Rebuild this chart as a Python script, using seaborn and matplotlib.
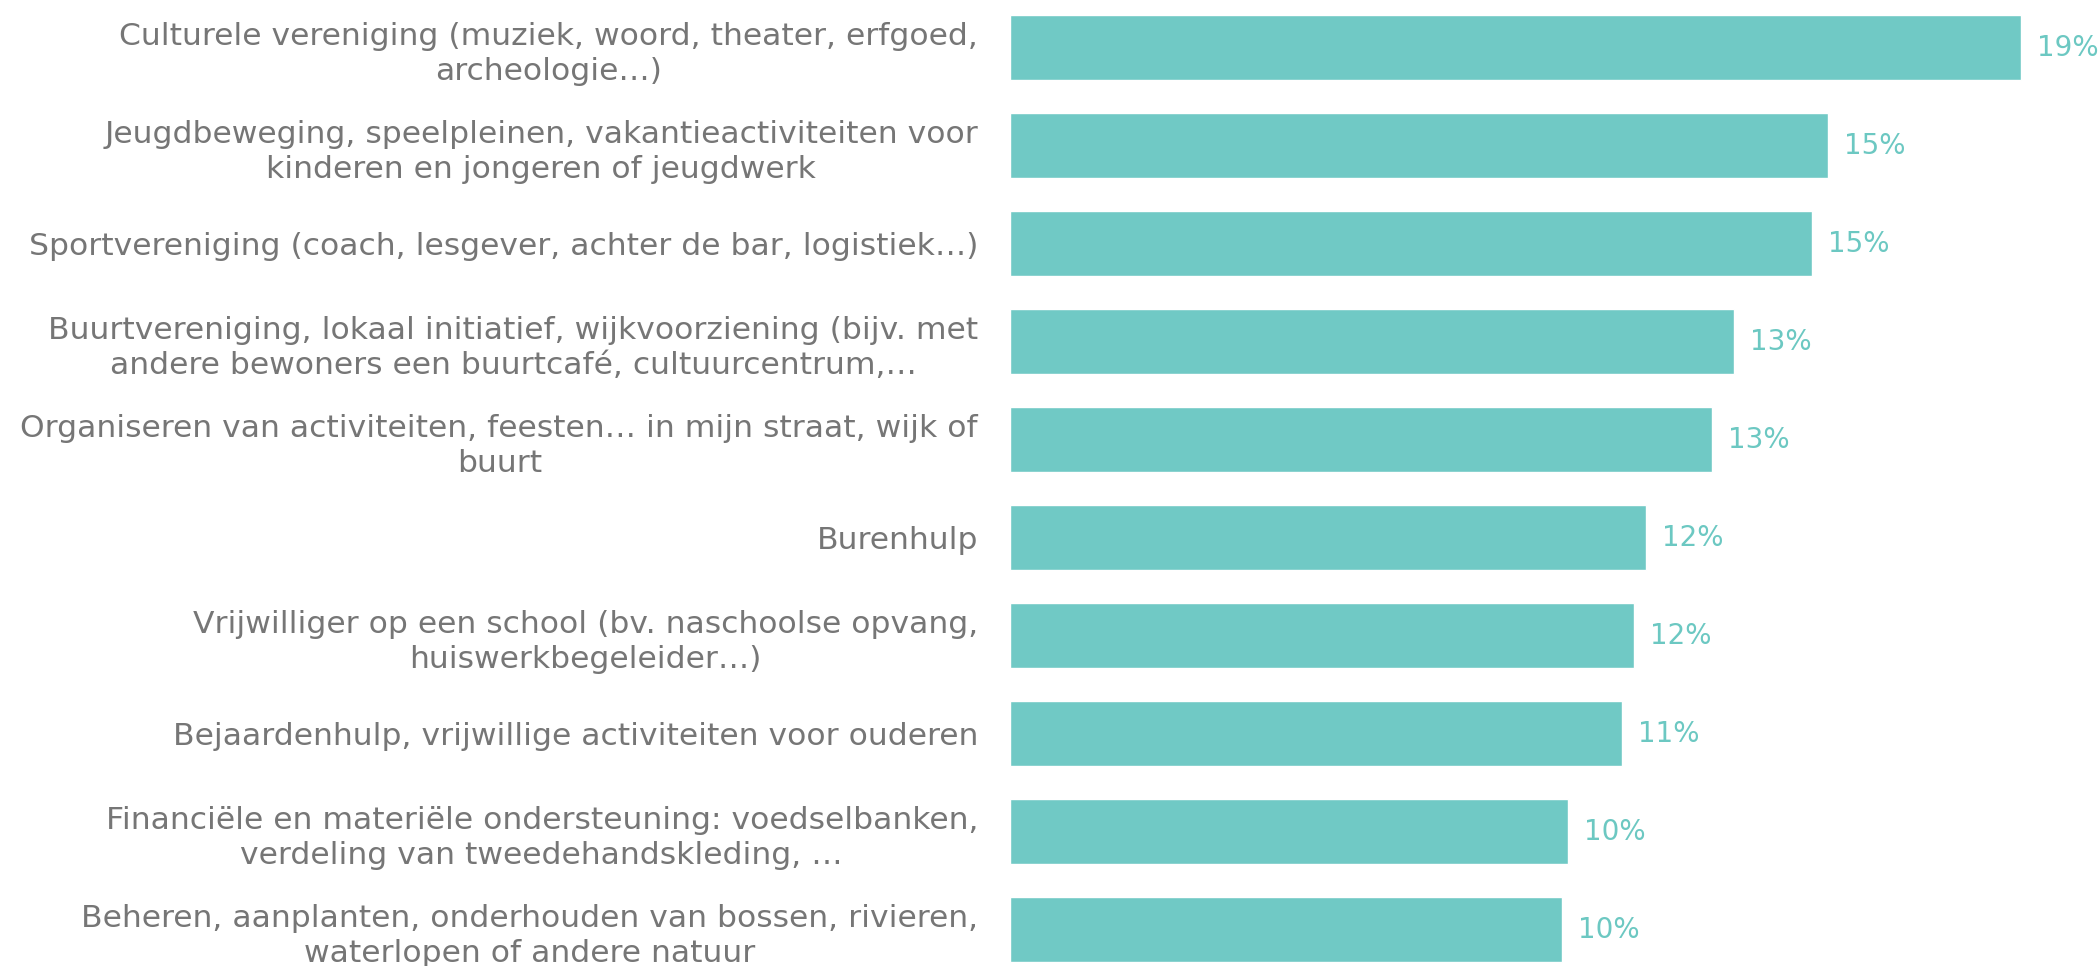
import matplotlib
matplotlib.use("Agg")
import matplotlib.pyplot as plt
import seaborn as sns
import pandas as pd

categories = [
    "Culturele vereniging (muziek, woord, theater, erfgoed,\narcheologie…)",
    "Jeugdbeweging, speelpleinen, vakantieactiviteiten voor\nkinderen en jongeren of jeugdwerk",
    "Sportvereniging (coach, lesgever, achter de bar, logistiek…)",
    "Buurtvereniging, lokaal initiatief, wijkvoorziening (bijv. met\nandere bewoners een buurtcafé, cultuurcentrum,…",
    "Organiseren van activiteiten, feesten… in mijn straat, wijk of\nbuurt",
    "Burenhulp",
    "Vrijwilliger op een school (bv. naschoolse opvang,\nhuiswerkbegeleider…)",
    "Bejaardenhulp, vrijwillige activiteiten voor ouderen",
    "Financiële en materiële ondersteuning: voedselbanken,\nverdeling van tweedehandskleding, …",
    "Beheren, aanplanten, onderhouden van bossen, rivieren,\nwaterlopen of andere natuur",
]
values = [18.8, 15.2, 14.9, 13.45, 13.05, 11.83, 11.6, 11.38, 10.38, 10.26]

BAR = "#70C9C5"
TXT = "#767676"
VAL = "#6CC8C2"

sns.set_theme(style="white")
plt.rcParams["font.family"] = ["DejaVu Sans"]

df = pd.DataFrame({"cat": categories, "val": values})

fig = plt.figure(figsize=(21, 9.66), dpi=100)
ax = fig.add_axes([1010 / 2100, 0, 1 - 1010 / 2100, 1])
sns.barplot(data=df, y="cat", x="val", orient="h", color=BAR, saturation=1,
            width=0.67, ax=ax)

ax.set_xlim(0, 20.26)
ax.set_ylim(9.372, -0.485)
ax.set_xlabel("")
ax.set_ylabel("")
ax.set_xticks([])
for s in ax.spines.values():
    s.set_visible(False)
ax.tick_params(axis="y", length=0, pad=23)
for lab in ax.get_yticklabels():
    lab.set_fontsize(22.6)
    lab.set_color(TXT)
    lab.set_ha("right")
    lab.set_multialignment("center")
    lab.set_linespacing(1.3)

for i, v in enumerate(values):
    ax.annotate(f"{round(v)}%", xy=(v, i), xytext=(16, 0), textcoords="offset pixels",
                ha="left", va="center", fontsize=20, color=VAL)

fig.savefig("out.png", dpi=100)
